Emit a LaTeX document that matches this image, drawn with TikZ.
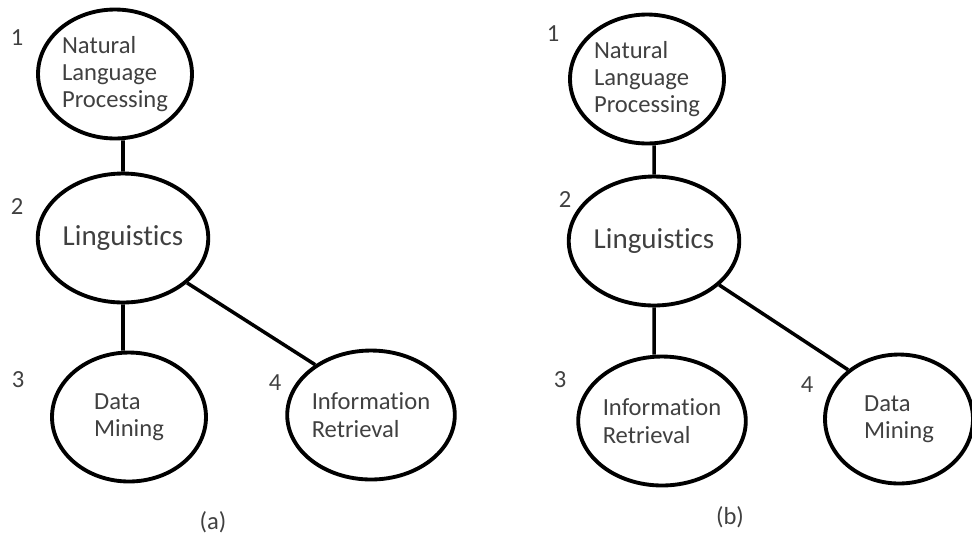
\documentclass[tikz,border=0pt]{standalone}
\usepackage{fontspec}
\setmainfont[Ligatures=NoCommon]{Carlito}
\usetikzlibrary{shapes.geometric}
\tikzset{
    topic/.style={draw, ellipse, line width=2.2pt, minimum width=3.08cm, minimum height=2.58cm,
        inner sep=0pt, align=left, text=black!75, font=\fontsize{14}{15.5}\selectfont},
    rank/.style={text=black!75, font=\fontsize{14}{16}\selectfont},
    link/.style={line width=2pt}
}

\begin{document}
\begin{tikzpicture}[x=0.02cm, y=-0.02cm]
    \useasboundingbox (0,0) rectangle (972,535);

    % (a)
    \node[topic] (nlpa) at (115,74) {Natural\\Language\\Processing};
    \node[topic, minimum width=2.94cm, font=\fontsize{16.5}{18}\selectfont] (linga) at (123,238) {Linguistics};
    \node[topic] (dma) at (129,417) {Data\\Mining};
    \node[topic, minimum width=3.04cm] (ira) at (371,415) {Information\\Retrieval};
    \node[rank] (na1) at (17,38) {1};
    \node[rank] (na2) at (17,207) {2};
    \node[rank] (na3) at (18,380) {3};
    \node[rank] (na4) at (275,383) {4};
    \draw[link] (linga.north |- nlpa.south) -- (linga.north)
        (linga.south) -- (linga.south |- dma.north)
        (linga.-35) -- (ira.138);
    \node[rank] (capa) at (213,522) {(a)};

    % (b)
    \node[topic] (nlpb) at (647,79) {Natural\\Language\\Processing};
    \node[topic, font=\fontsize{16.5}{18}\selectfont] (lingb) at (654,241) {Linguistics};
    \node[topic] (irb) at (662,421) {Information\\Retrieval};
    \node[topic, minimum width=2.96cm] (dmb) at (899,419) {Data\\Mining};
    \node[rank] (nb1) at (553,34) {1};
    \node[rank] (nb2) at (565,200) {2};
    \node[rank] (nb3) at (560,380) {3};
    \node[rank] (nb4) at (807,385) {4};
    \draw[link] (lingb.north |- nlpb.south) -- (lingb.north)
        (lingb.south) -- (lingb.south |- irb.north)
        (lingb.-34) -- (dmb.136);
    \node[rank] (capb) at (730,517) {(b)};
\end{tikzpicture}
\end{document}
